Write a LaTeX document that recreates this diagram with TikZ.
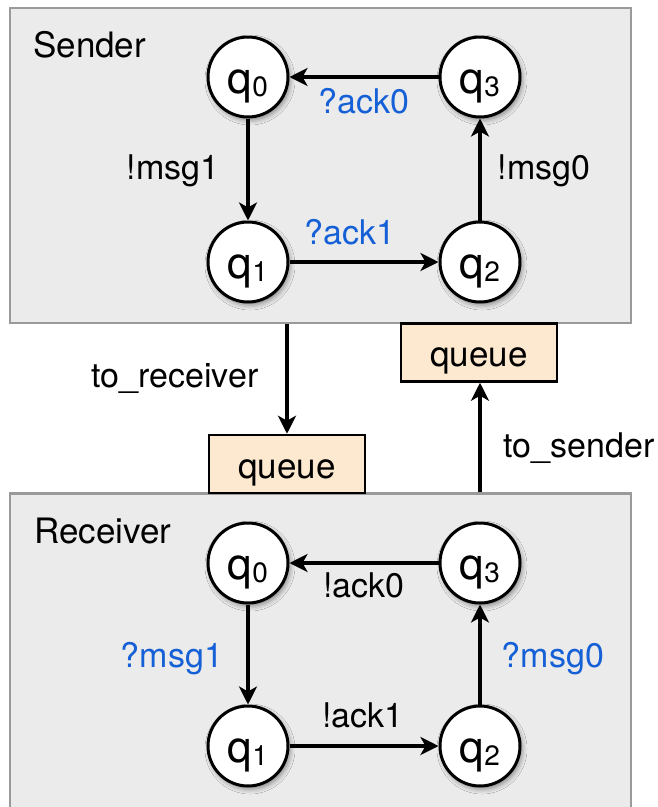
\documentclass[tikz,border=0pt]{standalone}
\usepackage{fontspec}
\setmainfont{TeX Gyre Heros}
\usetikzlibrary{arrows.meta,shadows.blur}
\definecolor{panelfill}{HTML}{EBEBEB}
\definecolor{paneldraw}{HTML}{9A9A9A}
\definecolor{qfill}{HTML}{FDE8D0}
\definecolor{lblue}{HTML}{1560D6}
\newcommand{\qlab}[1]{\raisebox{-16pt}[0pt][0pt]{\fontsize{44}{44}\selectfont q\raisebox{-3pt}{\fontsize{28}{28}\selectfont #1}}}
\newcommand{\qtext}[1]{\raisebox{-14pt}[0pt][0pt]{#1}}
\begin{document}
\begin{tikzpicture}[x=1pt,y=-1pt,
  panel/.style={draw=paneldraw, fill=panelfill, line width=2.5pt, inner sep=0pt},
  state/.style={circle, draw=black, fill=white, line width=3pt, minimum size=80pt, inner sep=0pt,
    blur shadow={shadow xshift=2pt, shadow yshift=-3pt, shadow opacity=45, shadow blur radius=5pt}},
  arr/.style={line width=3.3pt, -{Stealth[length=18pt,width=18pt,inset=5pt]}},
  lab/.style={font=\fontsize{34}{34}\selectfont, anchor=base, inner sep=0pt},
  blab/.style={lab, text=lblue},
  title/.style={font=\fontsize{35}{35}\selectfont, anchor=base west, inner sep=0pt},
  queuebox/.style={draw=black, fill=qfill, line width=2.5pt, minimum width=156pt, minimum height=58pt, inner sep=0pt, font=\fontsize{35}{35}\selectfont}]
\useasboundingbox (0,0) rectangle (658,807);
% panels
\node[panel, minimum width=621pt, minimum height=315pt] (sender) at (320.5,165.5) {};
\node[panel, minimum width=621pt, minimum height=337pt] (receiver) at (320.5,662) {};
\node[title] (stitle) at (33,57) {Sender};
\node[title] (rtitle) at (34,543) {Receiver};
% sender states
\node[state] (s0) at (248,77) {\qlab{0}};
\node[state] (s1) at (248,262) {\qlab{1}};
\node[state] (s2) at (480,262) {\qlab{2}};
\node[state] (s3) at (480,77) {\qlab{3}};
\draw[arr] (s0) -- (s1);
\draw[arr] (s1) -- (s2);
\draw[arr] (s2) -- (s3);
\draw[arr] (s3) -- (s0);
\node[lab] (l1) at (173,179) {!msg1};
\node[lab] (l2) at (544,179) {!msg0};
\node[blab] (l3) at (364,113) {?ack0};
\node[blab] (l4) at (350,244) {?ack1};
% receiver states
\node[state] (r0) at (248,563) {\qlab{0}};
\node[state] (r1) at (248,746) {\qlab{1}};
\node[state] (r2) at (480,746) {\qlab{2}};
\node[state] (r3) at (480,563) {\qlab{3}};
\draw[arr] (r0) -- (r1);
\draw[arr] (r1) -- (r2);
\draw[arr] (r2) -- (r3);
\draw[arr] (r3) -- (r0);
\node[lab] (m1) at (364,597) {!ack0};
\node[lab] (m2) at (363,727) {!ack1};
\node[blab] (m3) at (172,667) {?msg1};
\node[blab] (m4) at (553,667) {?msg0};
% queues
\node[queuebox] (qlow) at (287,464) {\qtext{queue}};
\node[queuebox] (qup) at (479,352.5) {\qtext{queue}};
\draw[arr] (qlow.north |- sender.south) -- (qlow.north);
\draw[arr] (s2.south |- receiver.north) -- (s2.south |- qup.south);
\node[lab] (tr) at (175,387) {to\_receiver};
\node[lab] (ts) at (579,457) {to\_sender};
\end{tikzpicture}
\end{document}
